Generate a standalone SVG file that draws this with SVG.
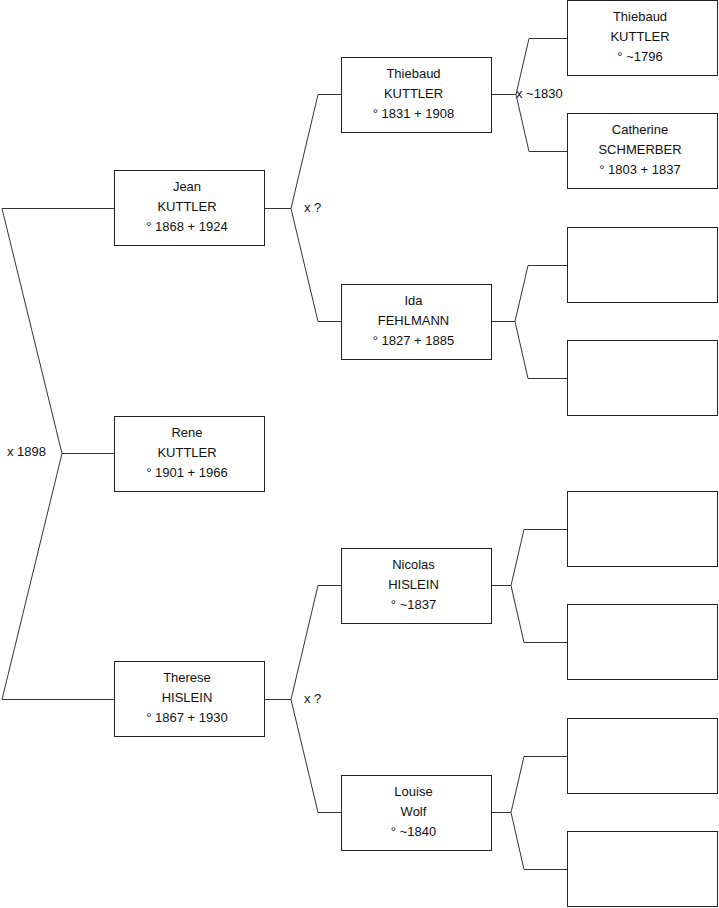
<svg xmlns="http://www.w3.org/2000/svg" width="719" height="908" viewBox="0 0 719 908">
<style>
.box{fill:#fff;stroke:#222;stroke-width:1}
.ln{fill:none;stroke:#333;stroke-width:1}
text{font-family:"Liberation Sans",Arial,sans-serif;font-size:13px;fill:#111}
.c{text-anchor:middle}
</style>
<rect width="719" height="908" fill="#fff"/>
<g id="connectors">
<path class="ln" d="M114,453.5 H62 L2,208.5 H114 M62,453.5 L2,699.5 H114"/>
<path class="ln" d="M265,208.5 H291 L318,94.5 H341 M291,208.5 L318,321.5 H341"/>
<path class="ln" d="M265,699.5 H291 L318,585.5 H341 M291,699.5 L318,812.5 H341"/>
<path class="ln" d="M491,94.5 H516 L529,38.5 H567 M516,94.5 L529,151.5 H567"/>
<path class="ln" d="M491,321.5 H515 L528,265.5 H567 M515,321.5 L528,378.5 H567"/>
<path class="ln" d="M491,585.5 H511 L524,529.5 H567 M511,585.5 L524,642.5 H567"/>
<path class="ln" d="M491,812.5 H511 L524,756.5 H567 M511,812.5 L524,869.5 H567"/>
<text x="7" y="456">x 1898</text>
<text x="304" y="212">x ?</text>
<text x="304" y="703">x ?</text>
<text x="516" y="98">x ~1830</text>
</g>
<g id="rene">
<rect class="box" x="114.5" y="416.5" width="150" height="75"/>
<text class="c" x="187" y="437">Rene</text>
<text class="c" x="187" y="457">KUTTLER</text>
<text class="c" x="187" y="477">° 1901 + 1966</text>
</g>
<g id="jean">
<rect class="box" x="114.5" y="170.5" width="150" height="75"/>
<text class="c" x="187" y="191">Jean</text>
<text class="c" x="187" y="211">KUTTLER</text>
<text class="c" x="187" y="231">° 1868 + 1924</text>
</g>
<g id="therese">
<rect class="box" x="114.5" y="661.5" width="150" height="75"/>
<text class="c" x="187" y="682">Therese</text>
<text class="c" x="187" y="702">HISLEIN</text>
<text class="c" x="187" y="722">° 1867 + 1930</text>
</g>
<g id="thiebaud1831">
<rect class="box" x="341.5" y="57.5" width="150" height="75"/>
<text class="c" x="413.5" y="78">Thiebaud</text>
<text class="c" x="413.5" y="98">KUTTLER</text>
<text class="c" x="413.5" y="118">° 1831 + 1908</text>
</g>
<g id="ida">
<rect class="box" x="341.5" y="284.5" width="150" height="75"/>
<text class="c" x="413.5" y="305">Ida</text>
<text class="c" x="413.5" y="325">FEHLMANN</text>
<text class="c" x="413.5" y="345">° 1827 + 1885</text>
</g>
<g id="nicolas">
<rect class="box" x="341.5" y="548.5" width="150" height="75"/>
<text class="c" x="413.5" y="569">Nicolas</text>
<text class="c" x="413.5" y="589">HISLEIN</text>
<text class="c" x="413.5" y="609">° ~1837</text>
</g>
<g id="louise">
<rect class="box" x="341.5" y="775.5" width="150" height="75"/>
<text class="c" x="413.5" y="796">Louise</text>
<text class="c" x="413.5" y="816">Wolf</text>
<text class="c" x="413.5" y="836">° ~1840</text>
</g>
<g id="thiebaud1796">
<rect class="box" x="567.5" y="0.5" width="150" height="75"/>
<text class="c" x="640" y="21">Thiebaud</text>
<text class="c" x="640" y="41">KUTTLER</text>
<text class="c" x="640" y="61">° ~1796</text>
</g>
<g id="catherine">
<rect class="box" x="567.5" y="113.5" width="150" height="75"/>
<text class="c" x="640" y="134">Catherine</text>
<text class="c" x="640" y="154">SCHMERBER</text>
<text class="c" x="640" y="174">° 1803 + 1837</text>
</g>
<g id="unknown1"><rect class="box" x="567.5" y="227.5" width="150" height="75"/></g>
<g id="unknown2"><rect class="box" x="567.5" y="340.5" width="150" height="75"/></g>
<g id="unknown3"><rect class="box" x="567.5" y="491.5" width="150" height="75"/></g>
<g id="unknown4"><rect class="box" x="567.5" y="604.5" width="150" height="75"/></g>
<g id="unknown5"><rect class="box" x="567.5" y="718.5" width="150" height="75"/></g>
<g id="unknown6"><rect class="box" x="567.5" y="831.5" width="150" height="75"/></g>
</svg>
